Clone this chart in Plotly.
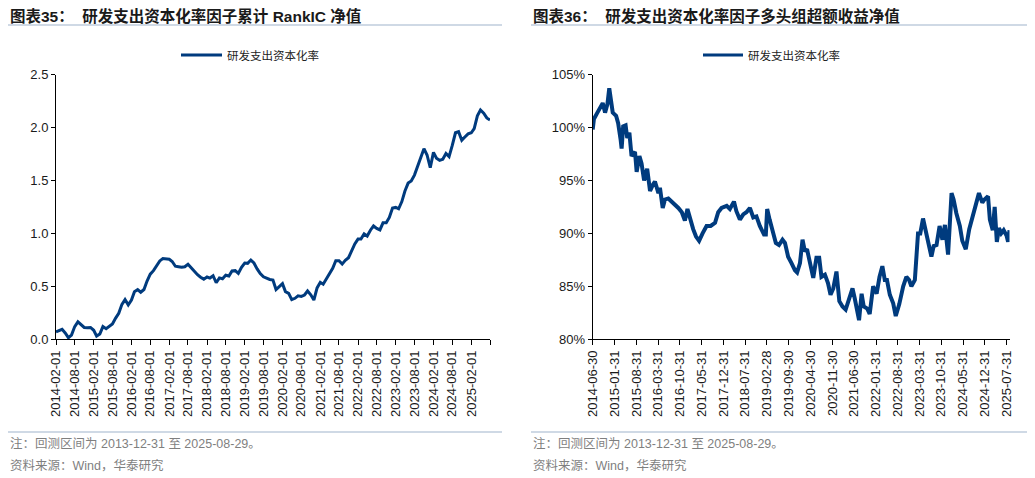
import plotly.graph_objects as go
import pandas as pd

# ---------------- data ----------------
# Left: cumulative RankIC (monthly, first date 2014-02-01)
rankic_start = "2014-02-01"
rankic = [
    0.07, 0.085, 0.094, 0.06, 0.015, 0.04, 0.12, 0.165, 0.135, 0.112,
    0.11, 0.112, 0.085, 0.03, 0.05, 0.12, 0.10, 0.125, 0.145, 0.20,
    0.245, 0.33, 0.375, 0.325, 0.37, 0.45, 0.47, 0.445, 0.47, 0.55,
    0.615, 0.648, 0.69, 0.74, 0.762, 0.762, 0.756, 0.735, 0.69, 0.685,
    0.68, 0.685, 0.708, 0.675, 0.64, 0.61, 0.586, 0.568, 0.588, 0.578,
    0.60, 0.534, 0.58, 0.572, 0.605, 0.597, 0.645, 0.648, 0.622, 0.68,
    0.72, 0.717, 0.748, 0.72, 0.665, 0.62, 0.59, 0.575, 0.565, 0.56,
    0.47, 0.497, 0.525, 0.45, 0.434, 0.375, 0.387, 0.41, 0.405, 0.418,
    0.456, 0.42, 0.371, 0.485, 0.538, 0.52, 0.57, 0.607, 0.67, 0.742,
    0.742, 0.71, 0.745, 0.77, 0.84, 0.90, 0.946, 0.946, 0.995, 0.975,
    1.03, 1.07, 1.047, 1.033, 1.10, 1.10, 1.15, 1.24, 1.245, 1.232,
    1.30, 1.40, 1.475, 1.494, 1.55, 1.64, 1.72, 1.80, 1.74, 1.62,
    1.765, 1.71, 1.69, 1.70, 1.755, 1.725, 1.83, 1.95, 1.96, 1.88,
    1.91, 1.94, 1.95, 1.99, 2.11, 2.165, 2.135, 2.09, 2.07,
]
left_ticks = [
    "2014-02-01", "2014-08-01", "2015-02-01", "2015-08-01", "2016-02-01",
    "2016-08-01", "2017-02-01", "2017-08-01", "2018-02-01", "2018-08-01",
    "2019-02-01", "2019-08-01", "2020-02-01", "2020-08-01", "2021-02-01",
    "2021-08-01", "2022-02-01", "2022-08-01", "2023-02-01", "2023-08-01",
    "2024-02-01", "2024-08-01", "2025-02-01",
]
left_end = "2025-08-01"

# Right: long-group excess net value (%)
excess_dates = [
    "2014-06-30", "2014-07-12", "2014-08-15", "2014-09-09", "2014-10-06", "2014-10-29",
    "2014-11-21", "2014-12-09", "2014-12-24", "2015-01-12", "2015-02-14", "2015-03-06",
    "2015-03-31", "2015-04-09", "2015-04-24", "2015-05-18", "2015-06-03", "2015-06-24",
    "2015-07-15", "2015-08-18", "2015-09-03", "2015-09-30", "2015-10-21", "2015-11-15",
    "2015-12-15", "2016-01-12", "2016-02-09", "2016-02-29", "2016-04-03", "2016-04-18",
    "2016-05-15", "2016-06-06", "2016-07-09", "2016-08-12", "2016-09-12", "2016-10-15",
    "2016-11-18", "2016-12-18", "2017-01-12", "2017-02-06", "2017-03-09", "2017-04-06",
    "2017-05-06", "2017-06-09", "2017-07-18", "2017-08-27", "2017-10-09", "2017-11-09",
    "2017-12-12", "2018-01-31", "2018-03-03", "2018-04-12", "2018-05-06", "2018-06-09",
    "2018-07-12", "2018-08-12", "2018-09-15", "2018-10-18", "2018-11-18", "2018-12-21",
    "2019-01-31", "2019-02-18", "2019-03-03", "2019-03-27", "2019-04-24", "2019-05-27",
    "2019-06-27", "2019-07-31", "2019-08-24", "2019-09-24", "2019-10-27", "2019-11-30",
    "2019-12-21", "2020-01-18", "2020-02-12", "2020-03-06", "2020-03-27", "2020-04-24",
    "2020-05-27", "2020-06-27", "2020-07-24", "2020-08-15", "2020-09-18", "2020-10-18",
    "2020-11-12", "2020-12-09", "2021-01-09", "2021-02-06", "2021-03-09", "2021-04-09",
    "2021-05-12", "2021-06-15", "2021-07-06", "2021-08-18", "2021-09-12", "2021-10-03",
    "2021-11-06", "2021-11-30", "2022-01-03", "2022-02-06", "2022-03-06", "2022-04-03",
    "2022-04-27", "2022-05-18", "2022-06-15", "2022-07-18", "2022-08-12", "2022-09-15",
    "2022-10-24", "2022-11-24", "2022-12-21", "2023-01-12", "2023-02-15", "2023-03-18",
    "2023-04-09", "2023-05-06", "2023-05-31", "2023-06-24", "2023-07-27", "2023-08-18",
    "2023-09-15", "2023-10-15", "2023-11-12", "2023-12-06", "2024-01-06", "2024-02-09",
    "2024-02-29", "2024-03-27", "2024-04-30", "2024-05-24", "2024-06-27", "2024-07-31",
    "2024-08-31", "2024-10-03", "2024-11-03", "2024-12-06", "2024-12-27", "2025-01-31",
    "2025-02-18", "2025-03-18", "2025-04-06", "2025-04-27", "2025-05-18", "2025-06-09",
    "2025-07-03", "2025-07-31", "2025-08-15", "2025-08-29",
]
excess = [
    99.8, 100.8, 101.4, 101.9, 102.3, 101.4,
    102.2, 103.7, 102.9, 101.4, 101.1, 100.4,
    98.8, 98.0, 100.1, 100.2, 99.0, 99.5,
    97.3, 97.7, 95.8, 97.3, 96.6, 95.0,
    96.1, 94.0, 94.6, 94.9, 93.8, 94.3,
    92.4, 93.2, 93.3, 93.0, 92.6, 92.4,
    92.0, 91.2, 92.3, 91.3, 90.4, 89.7,
    89.3, 90.0, 90.7, 90.7, 91.0, 92.0,
    92.4, 92.6, 92.3, 93.0, 92.1, 91.3,
    91.8, 92.0, 92.4, 91.5, 91.6, 90.7,
    89.9, 89.9, 92.3, 91.3, 90.2, 89.1,
    88.9, 89.4, 89.1, 87.8, 87.2, 86.5,
    86.3, 87.2, 89.4, 88.3, 88.5, 87.2,
    85.8, 87.7, 87.7, 85.9, 86.1, 85.3,
    84.2, 84.8, 86.4, 83.6, 83.1, 82.8,
    83.9, 84.8, 83.9, 81.8, 84.3, 83.1,
    82.9, 82.4, 85.0, 84.3, 85.9, 86.9,
    85.6, 85.6, 84.2, 83.4, 82.2, 83.3,
    85.0, 85.9, 85.6, 85.0, 85.6, 90.0,
    90.0, 91.4, 90.3, 89.1, 87.8, 88.8,
    88.9, 90.7, 89.4, 90.8, 88.0, 93.8,
    93.2, 91.9, 90.7, 89.3, 88.5, 90.4,
    91.6, 92.9, 93.8, 92.9, 93.2, 93.5,
    91.3, 90.3, 92.5, 89.2, 90.5, 90.0,
    90.3, 89.8, 89.2, 90.3,
]
right_ticks = [
    "2014-06-30", "2015-01-31", "2015-08-31", "2016-03-31", "2016-10-31",
    "2017-05-31", "2017-12-31", "2018-07-31", "2019-02-28", "2019-09-30",
    "2020-04-30", "2020-11-30", "2021-06-30", "2022-01-31", "2022-08-31",
    "2023-03-31", "2023-10-31", "2024-05-31", "2024-12-31", "2025-07-31",
]
series_name = "研发支出资本化率"
title_left = "<b>图表35：  研发支出资本化率因子累计 RankIC 净值</b>"
title_right = "<b>图表36：  研发支出资本化率因子多头组超额收益净值</b>"
note_text = "注：回测区间为 2013-12-31 至 2025-08-29。"
source_text = "资料来源：Wind，华泰研究"

# ---------------- figure ----------------
OFF = 8                     # page body margin in the browser
W, H = 1035 - OFF, 478 - OFF
LINE = "#003b7e"
FONT = "Liberation Sans, Arial, Noto Sans CJK SC, sans-serif"
CJK = "Noto Sans CJK SC, sans-serif"

def px(x):
    return (x - OFF) / W

def py(y):
    return 1 - (y - OFF) / H

left_dates = pd.date_range(rankic_start, periods=len(rankic), freq="MS")

fig = go.Figure()
fig.add_trace(go.Scatter(x=left_dates, y=rankic, mode="lines", name=series_name,
                         line=dict(color=LINE, width=3), xaxis="x", yaxis="y",
                         showlegend=False))
fig.add_trace(go.Scatter(x=excess_dates, y=excess, mode="lines", name=series_name,
                         line=dict(color=LINE, width=4), xaxis="x2", yaxis="y2",
                         showlegend=False))

y_dom = [py(339.3), py(74.5)]
axis_common = dict(showgrid=False, zeroline=False, showline=True, linecolor="#000000",
                   linewidth=1, ticks="outside", tickcolor="#000000", automargin=False,
                   tickfont=dict(family=FONT, size=13, color="#1a1a1a"))

fig.update_layout(
    template="none",
    width=W, height=H, margin=dict(l=0, r=0, t=0, b=0, pad=0, autoexpand=False),
    paper_bgcolor="white", plot_bgcolor="white", showlegend=False,
    xaxis=dict(domain=[px(56), px(490)], type="date",
               range=[left_dates[0], left_dates[-1]],
               tickmode="array", tickvals=left_ticks + [left_end],
               ticktext=left_ticks + [""], tickangle=-90, anchor="y", ticklen=5,
               **axis_common),
    yaxis=dict(domain=y_dom, range=[0, 2.5], dtick=0.5, tickformat=".1f",
               anchor="x", ticklen=4, **axis_common),
    xaxis2=dict(domain=[px(592.7), px(1009.5)], type="date",
                range=[excess_dates[0], excess_dates[-1]],
                tickmode="array", tickvals=right_ticks, ticktext=right_ticks,
                tickangle=-90, anchor="y2", ticklen=5, **axis_common),
    yaxis2=dict(domain=y_dom, range=[80, 105], dtick=5, ticksuffix="%",
                anchor="x2", ticklen=4, **axis_common),
)

shapes = []
annotations = []
for (x0, x1, title, lx0, lx1) in [
    (8, 502, title_left, 181, 222),
    (531, 1027, title_right, 703, 743),
]:
    # title rule
    shapes.append(dict(type="line", xref="paper", yref="paper", x0=px(x0), x1=px(x1),
                       y0=py(25), y1=py(25), line=dict(color="#9fb4cc", width=1.2)))
    # bottom rule
    shapes.append(dict(type="line", xref="paper", yref="paper", x0=px(x0), x1=px(x1),
                       y0=py(432), y1=py(432), line=dict(color="#9fb4cc", width=1.2)))
    # legend sample
    shapes.append(dict(type="line", xref="paper", yref="paper", x0=px(lx0), x1=px(lx1),
                       y0=py(55), y1=py(55), line=dict(color=LINE, width=3)))
    annotations.append(dict(xref="paper", yref="paper", x=px(x0), y=py(16),
                            xanchor="left", yanchor="middle", showarrow=False,
                            text=title, font=dict(family=FONT, size=15.5, color="#1a1a1a")))
    annotations.append(dict(xref="paper", yref="paper", x=px(lx1 + 3), y=py(55),
                            xanchor="left", yanchor="middle", showarrow=False,
                            text=series_name, font=dict(family=CJK, size=11.5, color="#222222")))
    annotations.append(dict(xref="paper", yref="paper", x=px(x0), y=py(443),
                            xanchor="left", yanchor="middle", showarrow=False,
                            text=note_text, font=dict(family=FONT, size=12.5, color="#7f7f7f")))
    annotations.append(dict(xref="paper", yref="paper", x=px(x0), y=py(465),
                            xanchor="left", yanchor="middle", showarrow=False,
                            text=source_text, font=dict(family=FONT, size=12.5, color="#7f7f7f")))

fig.update_layout(shapes=shapes, annotations=annotations)
fig.write_html("out.html")
